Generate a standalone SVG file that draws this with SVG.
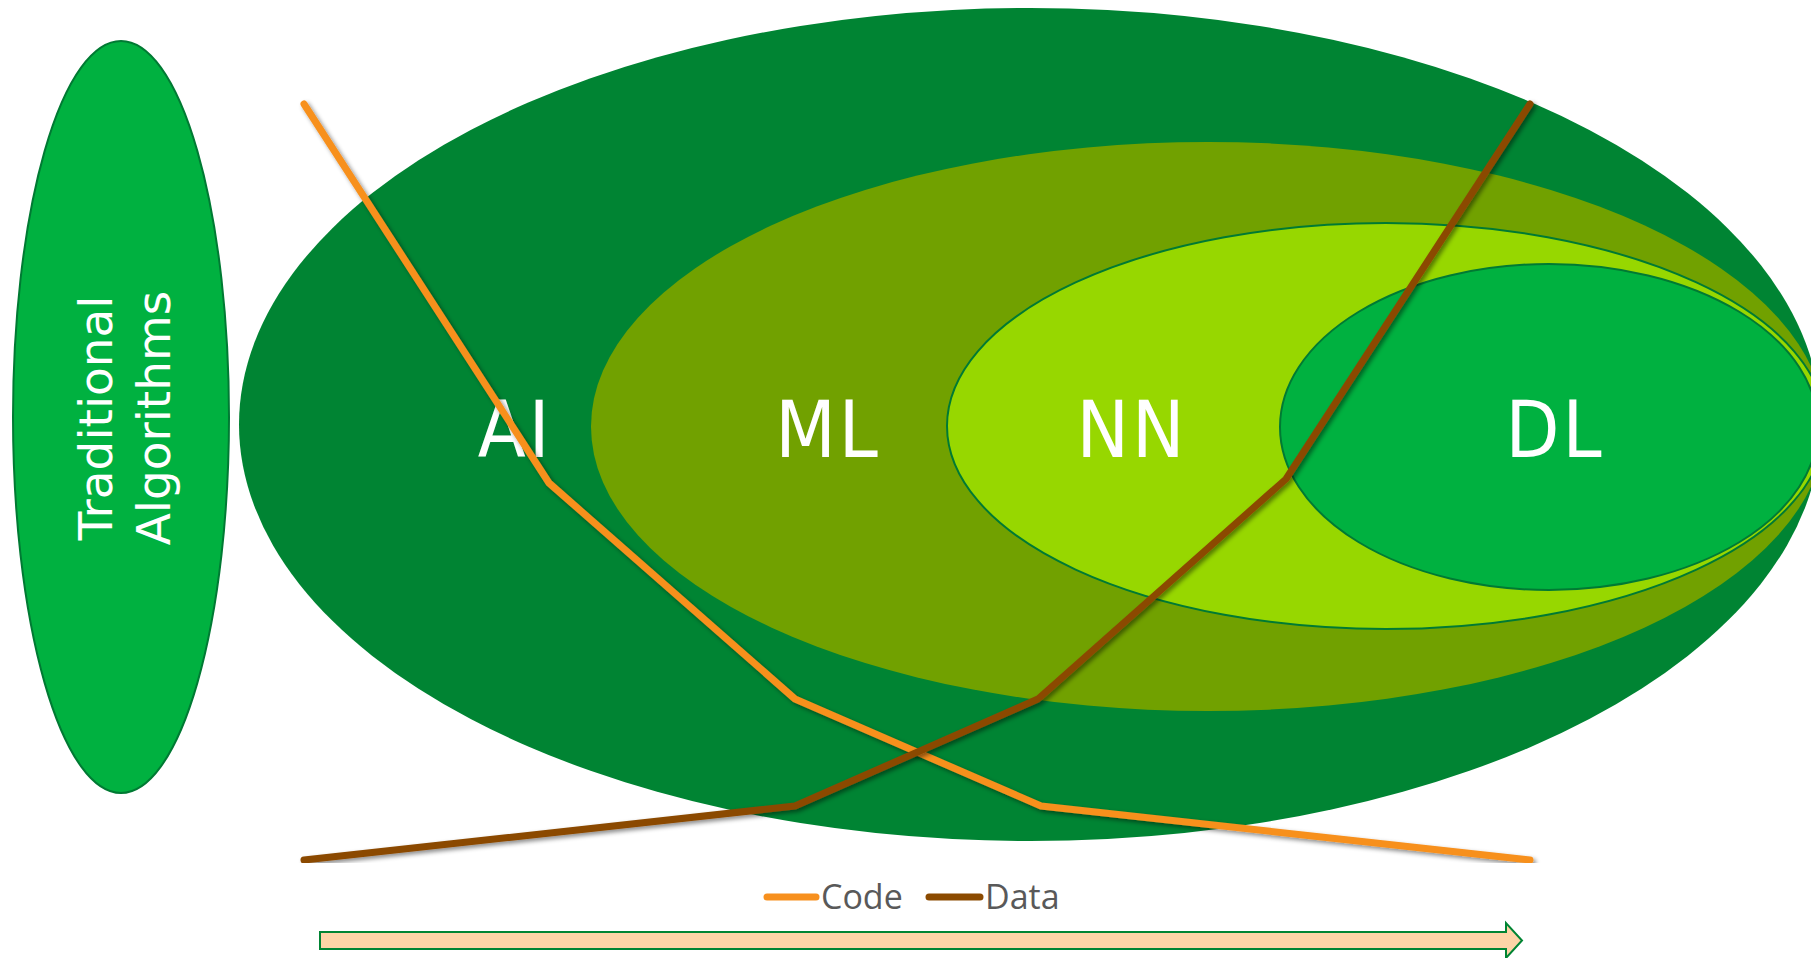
<svg xmlns="http://www.w3.org/2000/svg" width="1811" height="958" viewBox="0 0 1811 958">
<style>
.lbl{font-family:"DejaVu Sans Condensed","DejaVu Sans",sans-serif;font-size:78px;letter-spacing:3px;fill:#ffffff;text-anchor:middle}
.trad{font-family:"DejaVu Sans",Verdana,sans-serif;font-size:47px;fill:#ffffff;text-anchor:middle}
.leg{font-family:"Open Sans","Liberation Sans",sans-serif;font-size:34px;fill:#595959}
.code{fill:none;stroke:#F7901E;stroke-width:7;stroke-linecap:round;stroke-linejoin:round}
.data{fill:none;stroke:#8B4A00;stroke-width:7;stroke-linecap:round;stroke-linejoin:round}
</style>
<defs>
<filter id="sh" x="-10%" y="-10%" width="120%" height="120%">
<feDropShadow dx="2.5" dy="2.5" stdDeviation="2" flood-color="#000" flood-opacity="0.45"/>
</filter>
<clipPath id="chart"><rect x="0" y="0" width="1811" height="863"/></clipPath>
</defs>
<rect width="1811" height="958" fill="#ffffff"/>
<g id="traditional">
<ellipse cx="121" cy="417" rx="108" ry="376" fill="#00B140" stroke="#007A33" stroke-width="2"/>
<g transform="translate(121 418) rotate(-90)">
<text class="trad" x="0" y="-9">Traditional</text>
<text class="trad" x="0" y="49">Algorithms</text>
</g>
</g>
<g id="ai">
<ellipse cx="1030" cy="424.5" rx="791" ry="416.5" fill="#008433"/>
</g>
<g id="ml">
<ellipse cx="1208" cy="426.5" rx="617" ry="284.5" fill="#71A100"/>
</g>
<g id="nn">
<ellipse cx="1386" cy="426" rx="439" ry="203" fill="#97D700" stroke="#007A33" stroke-width="2"/>
</g>
<g id="dl">
<ellipse cx="1549" cy="427" rx="269" ry="163" fill="#00B140" stroke="#007A33" stroke-width="2"/>
</g>
<g id="labels">
<text class="lbl" x="515" y="457">AI</text>
<text class="lbl" x="828" y="457">ML</text>
<text class="lbl" x="1132" y="457">NN</text>
<text class="lbl" x="1555" y="457">DL</text>
</g>
<g id="connectors" clip-path="url(#chart)">
<polyline class="code" filter="url(#sh)" points="304,104 549,483 795,699 1041,806 1530,860"/>
<polyline class="data" filter="url(#sh)" points="304,860 795,806 1038,699 1286,479 1530,104"/>
</g>
<g id="legend">
<line x1="767" y1="897" x2="816" y2="897" stroke="#F7901E" stroke-width="7" stroke-linecap="round"/>
<text class="leg" x="821" y="909">Code</text>
<line x1="929" y1="897" x2="980" y2="897" stroke="#8B4A00" stroke-width="7" stroke-linecap="round"/>
<text class="leg" x="985" y="909">Data</text>
</g>
<g id="timeline-arrow">
<polygon points="320,932 1506,932 1506,923 1522,940.5 1506,958 1506,949 320,949" fill="#FDD4A7" stroke="#008433" stroke-width="2"/>
</g>
</svg>
